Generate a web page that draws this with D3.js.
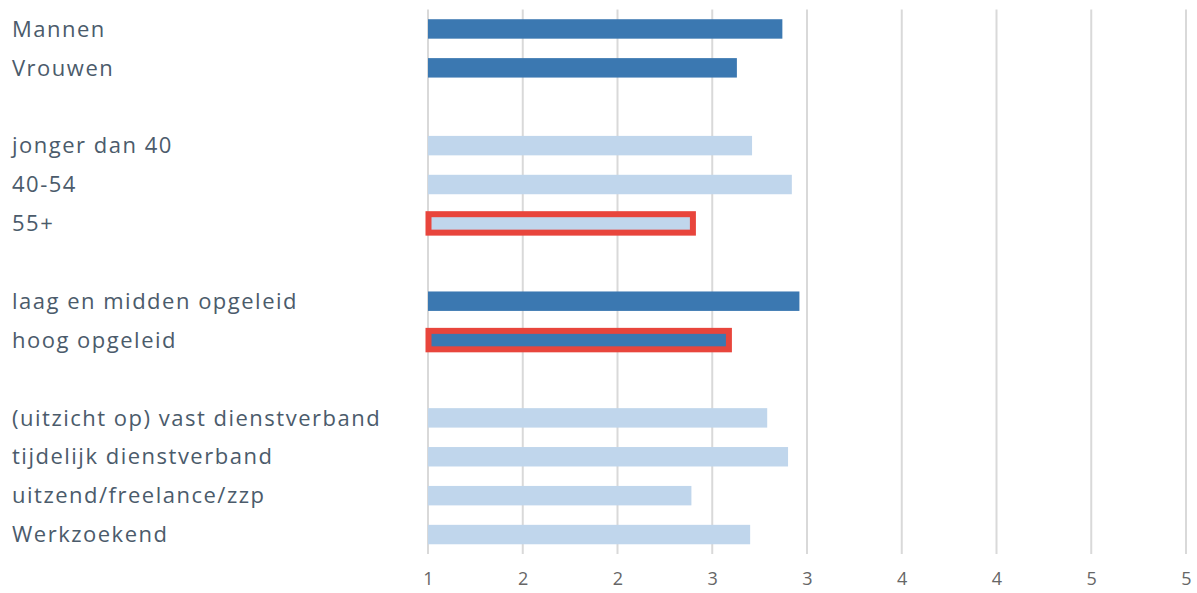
<!DOCTYPE html>
<html>
<head>
<meta charset="utf-8">
<script src="https://cdn.jsdelivr.net/npm/d3@7"></script>
<style>
  body { margin: 0; background: #fff; }
  .lbl { font-family: "Open Sans", sans-serif; font-size: 22px; fill: #4b5b6b; letter-spacing: 1.5px; }
  .axis text { font-family: "Open Sans", sans-serif; font-size: 18px; fill: #666; }
</style>
</head>
<body>
<svg width="1197" height="593"></svg>
<script>
// rows, empty strings are the gaps between groups
var categories = ["Mannen", "Vrouwen", "",
  "jonger dan 40", "40-54", "55+", "",
  "laag en midden opgeleid", "hoog opgeleid", "",
  "(uitzicht op) vast dienstverband", "tijdelijk dienstverband", "uitzend/freelance/zzp", "Werkzoekend"]
var values = [2.87, 2.63, null,
  2.71, 2.92, 2.39, null,
  2.96, 2.58, null,
  2.79, 2.90, 2.39, 2.70]
var shade = ["dark", "dark", null,
  "light", "light", "light", null,
  "dark", "dark", null,
  "light", "light", "light", "light"]
var highlighted = ["55+", "hoog opgeleid"]
var tickValues = [1, 1.5, 2, 2.5, 3, 3.5, 4, 4.5, 5]

var colors = {dark: "#3b78b1", light: "#c0d6ec"}

var rows = categories.map(function(c, i) {
  return {key: i, name: c, value: values[i], shade: shade[i]}
})

var svg = d3.select("svg")

var x = d3.scaleLinear().domain([1, 5]).range([428, 1186])
var y = d3.scaleBand().domain(rows.map(function(d) { return d.key }))
  .range([9.5, 554]).paddingInner(0.5).paddingOuter(0.25)

// grid
svg.append("g").selectAll("line")
  .data(tickValues)
  .enter().append("line")
    .attr("x1", function(d) { return x(d) }).attr("x2", function(d) { return x(d) })
    .attr("y1", 9.5).attr("y2", 554)
    .attr("stroke", "#d9d9d9").attr("stroke-width", 2)

// axis labels
var ax = svg.append("g")
  .attr("class", "axis")
  .attr("transform", "translate(0,554)")
  .call(d3.axisBottom(x).tickValues(tickValues).tickFormat(d3.format(".0f")).tickSize(0).tickPadding(18))
ax.select(".domain").remove()

var data = rows.filter(function(d) { return d.value != null })

svg.append("g").selectAll("rect")
  .data(data)
  .enter().append("rect")
    .attr("x", x(1))
    .attr("y", function(d) { return y(d.key) })
    .attr("width", function(d) { return x(d.value) - x(1) })
    .attr("height", y.bandwidth())
    .attr("fill", function(d) { return colors[d.shade] })

// red frames
svg.append("g").selectAll("rect")
  .data(data.filter(function(d) { return highlighted.indexOf(d.name) >= 0 }))
  .enter().append("rect")
    .attr("x", x(1) + 0.5)
    .attr("y", function(d) { return y(d.key) + 0.5 })
    .attr("width", function(d) { return x(d.value) - x(1) + 1 })
    .attr("height", y.bandwidth() - 1)
    .attr("fill", "none")
    .attr("stroke", "#e8453c")
    .attr("stroke-width", 6)

// row labels
svg.append("g").selectAll("text")
  .data(data)
  .enter().append("text")
    .attr("class", "lbl")
    .attr("x", 12)
    .attr("y", function(d) { return y(d.key) + y.bandwidth() / 2 })
    .attr("dy", "0.35em")
    .text(function(d) { return d.name })
</script>
</body>
</html>
